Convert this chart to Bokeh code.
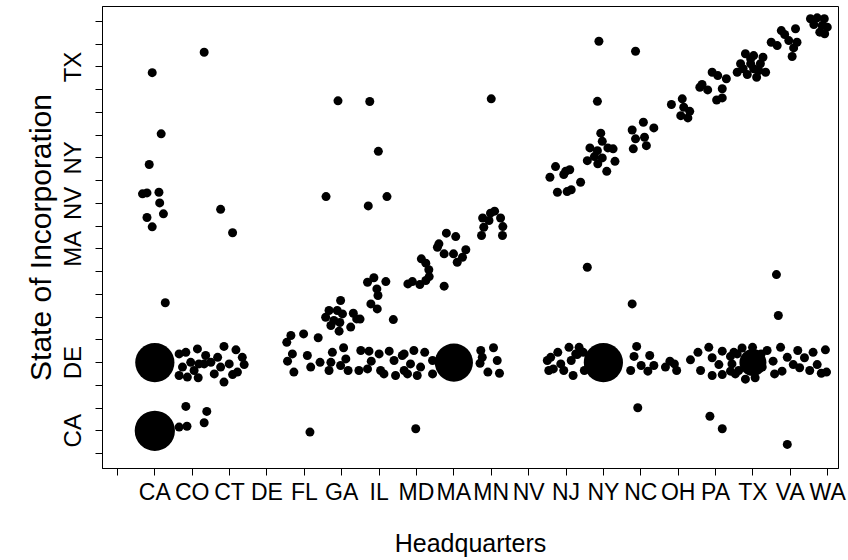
import math
from bokeh.plotting import figure
from bokeh.models import FixedTicker, ColumnDataSource
from bokeh.embed import file_html
from bokeh.resources import INLINE

# Factor levels (used for both axes)
states = ["CA", "CO", "CT", "DE", "FL", "GA", "IL", "MD", "MA", "MN",
          "NV", "NJ", "NY", "NC", "OH", "PA", "TX", "VA", "WA"]
# y tick labels that are printed (others dropped by overlap)
y_shown = ["CA", "DE", "MA", "NV", "NY", "TX"]

# Jittered positions of individual firms on the factor scale (1 = CA ... 19 = WA)
hq_pos = [
    2.32, 0.93, 1.17, 0.85, 0.67, 0.79, 1.11, 1.13, 1.23, 0.79, 0.93, 2.76, 3.08, 1.28,
    5.90, 6.75, 10.0, 6.98, 5.58, 6.71, 7.21,
    9.77, 9.98, 10.09, 10.25, 10.31, 10.30, 9.74, 9.80, 9.94,
    8.80, 9.05, 8.56, 8.74, 8.99, 9.23, 9.32, 9.09, 8.60,
    8.13, 8.25, 8.33, 8.34, 8.25, 8.09, 7.77, 7.89, 8.74,
    6.69, 6.86, 7.18, 6.94, 6.97, 6.78, 6.95, 7.38,
    5.97, 5.88, 5.66, 5.57, 5.79, 6.02, 6.31, 6.40, 6.24, 5.93, 5.71, 5.95, 6.49,
    1.65, 1.83, 2.14, 2.36, 2.32, 2.05, 1.74, 1.87, 1.65, 2.16, 1.96, 2.18,
    2.85, 3.17, 3.34, 2.68, 2.99, 3.39, 3.21, 2.85, 2.59, 3.08, 2.76, 2.50,
    4.64, 4.98, 5.37, 4.53, 4.68, 4.55, 4.72, 5.08, 5.17, 5.42,
    5.75, 5.71, 5.66, 6.05, 6.11, 6.17, 5.97,
    6.51, 6.73, 6.79, 7.00, 6.69, 6.46, 7.04, 7.27, 7.40, 7.13, 7.62, 7.67, 7.44,
    1.83, 2.39, 2.32, 1.86, 1.65, 5.15,
    7.67, 7.93, 8.22, 7.84, 8.11, 8.43, 7.76, 8.02, 8.43,
    9.72, 9.76, 10.06, 10.16, 9.91, 10.22, 9.70, 7.98,
    11.59, 11.78, 12.08, 11.86, 11.66, 12.14, 12.30, 12.19, 12.46, 11.94, 11.50, 11.54,
    12.35, 12.26, 12.49, 12.62,
    13.89, 13.82, 14.01, 14.24, 14.19, 13.73, 14.35,
    14.66, 14.78, 14.90, 14.96,
    13.92, 15.85, 16.18, 17.92,
    15.33, 15.53, 15.82, 15.91, 16.09, 15.60, 15.91, 16.18, 16.40, 16.40, 16.18,
    16.49, 16.71, 16.99, 17.22, 17.25, 17.06, 16.80, 16.53, 16.44, 16.58, 16.62,
    17.38, 17.54, 17.74, 17.92, 17.78, 18.08, 18.20, 18.25, 18.38, 18.61, 18.72, 18.94,
    18.97, 18.83, 18.52, 17.58,
    17.63, 17.68, 12.57, 13.77,
    12.88, 13.86, 12.84,
    11.72, 11.99, 12.10, 11.57, 11.94, 12.39, 11.77, 12.03, 12.14,
    12.93, 12.97, 12.64, 12.84, 13.12, 13.26, 12.57, 12.85, 13.09, 13.31, 12.76, 12.97,
    14.07, 13.77, 14.35, 13.86, 14.10, 14.15, 13.80,
    14.82, 15.11, 15.15, 15.31, 15.07, 15.26,
    15.91, 16.06, 16.29, 15.64, 15.79, 16.18, 16.18, 16.03, 15.58,
    16.80, 17.02, 17.27, 16.67, 16.94, 17.20, 16.58, 16.85, 17.10, 17.34, 17.16, 16.74,
    17.02, 16.94,
    17.76, 17.85, 18.14, 17.49, 17.65, 17.96, 18.18, 18.09, 18.05,
    18.54, 18.72, 18.91, 18.63, 18.85, 18.92, 18.79, 18.99,
]

inc_pos = [
    17.65, 16.75, 14.06, 12.71, 11.42, 11.46, 11.49, 11.02, 10.54, 10.38, 9.97, 10.74, 9.71, 6.63,
    15.51, 15.48, 15.6, 13.29, 11.30, 10.89, 11.30,
    10.36, 10.57, 10.66, 10.36, 9.98, 9.59, 9.59, 9.95, 10.25,
    9.69, 9.54, 9.07, 8.78, 8.78, 8.63, 8.96, 8.41, 9.22,
    8.56, 8.37, 8.08, 7.78, 7.61, 7.43, 7.46, 7.56, 7.36,
    7.53, 7.73, 7.56, 7.24, 6.95, 6.58, 6.36, 5.89,
    6.73, 6.29, 6.29, 5.99, 5.85, 6.14, 6.17, 5.92, 5.56, 5.38, 5.63, 5.76, 5.91,
    4.38, 4.45, 4.60, 4.31, 3.94, 3.65, 3.80, 3.36, 3.43, 3.33, 4.01, 3.94,
    4.71, 4.56, 4.23, 4.23, 3.94, 3.91, 3.58, 3.14, 3.50, 3.47, 3.80, 4.01,
    5.19, 5.26, 5.09, 4.89, 4.38, 4.06, 3.58, 4.31, 3.80, 4.01,
    4.45, 4.01, 3.65, 4.65, 4.16, 3.65, 3.87,
    4.53, 4.50, 4.06, 4.38, 3.72, 3.65, 3.65, 4.50, 4.09, 3.50, 4.31, 3.65, 3.43,
    2.07, 1.85, 1.35, 1.20, 1.16, 0.94,
    4.38, 4.53, 4.45, 3.94, 3.80, 4.09, 3.50, 3.43, 3.50,
    4.53, 4.23, 4.65, 4.09, 3.58, 3.53, 3.97, 1.09,
    4.23, 4.45, 4.67, 3.94, 3.72, 4.09, 4.35, 3.43, 4.45, 3.65, 4.09, 3.65,
    4.67, 4.38, 3.65, 4.23,
    4.71, 4.27, 3.87, 4.31, 3.62, 3.65, 3.87,
    3.80, 4.06, 3.94, 3.65,
    2.01, 1.64, 1.09, 0.40,
    4.12, 4.45, 4.67, 4.21, 3.91, 3.65, 3.43, 4.50, 4.27, 3.62, 3.47,
    4.45, 4.64, 4.67, 4.38, 3.80, 3.33, 3.27, 3.50, 3.94, 4.38, 3.65,
    4.53, 4.06, 4.67, 4.23, 3.62, 3.91, 4.53, 3.77, 4.21, 4.45, 3.91, 4.56,
    3.58, 3.53, 3.65, 3.50,
    7.87, 6.07, 8.19, 6.58,
    18.13, 17.69, 15.49,
    12.62, 12.41, 12.48, 12.15, 12.27, 11.93, 11.49, 11.52, 11.60,
    14.09, 13.73, 13.44, 13.32, 13.44, 13.40, 12.88, 12.74, 12.41, 12.85, 13.06, 13.00,
    14.57, 14.23, 14.32, 13.84, 13.91, 13.54, 13.40,
    15.35, 15.60, 15.23, 15.05, 14.86, 14.76,
    16.77, 16.62, 16.48, 16.23, 15.99, 16.04, 15.64, 15.55, 16.11,
    17.58, 17.50, 17.43, 17.14, 17.14, 17.14, 16.77, 16.67, 16.55, 16.77, 16.84, 16.92,
    16.92, 17.36,
    18.60, 18.43, 18.68, 18.09, 17.94, 18.16, 18.09, 17.84, 17.46,
    19.12, 19.16, 19.12, 18.87, 18.82, 18.46, 18.53, 18.75,
]

# Heavily over-plotted cells (headquarters, incorporation, approx. number of firms)
dense_hq = ["CA", "CA", "MA", "NY", "TX"]
dense_inc = ["CA", "DE", "DE", "DE", "DE"]
dense_count = [20, 19, 18, 19, 9]

DOT = 9
FONT = "Liberation Sans"

p = figure(frame_width=736, frame_height=462,
           x_range=(-0.40, 19.29), y_range=(-0.66, 19.66),
           output_backend="svg", toolbar_location=None,
           min_border_left=102, min_border_right=10, min_border_top=6,
           min_border_bottom=86)
p.background_fill_color = "white"
p.border_fill_color = "white"
p.grid.visible = False
p.outline_line_color = "black"
p.outline_line_width = 1

src = ColumnDataSource(dict(x=hq_pos, y=inc_pos))
p.scatter(x="x", y="y", source=src, size=DOT, fill_color="black", line_color=None)

dsrc = ColumnDataSource(dict(
    x=[states.index(h) + 1 for h in dense_hq],
    y=[states.index(s) + 1 for s in dense_inc],
    s=[DOT * math.sqrt(c) for c in dense_count],
))
p.scatter(x="x", y="y", size="s", source=dsrc, fill_color="black", line_color=None)

ticks = list(range(len(states) + 1))

xa = p.xaxis[0]
xa.ticker = FixedTicker(ticks=ticks, minor_ticks=[])
xo = {0: ""}
for i, s in enumerate(states):
    xo[i + 1] = s
xa.major_label_overrides = xo
xa.major_tick_out = 7
xa.major_tick_in = 0
xa.major_label_standoff = 3
xa.major_label_text_font = FONT
xa.major_label_text_font_size = "23px"
xa.major_label_text_color = "black"
xa.axis_label = "Headquarters"
xa.axis_label_text_font = FONT
xa.axis_label_text_font_size = "25px"
xa.axis_label_text_font_style = "normal"
xa.axis_label_text_color = "black"
xa.axis_label_standoff = 21
xa.axis_line_color = "black"
xa.major_tick_line_color = "black"

ya = p.yaxis[0]
ya.ticker = FixedTicker(ticks=ticks, minor_ticks=[])
yo = {0: ""}
for i, s in enumerate(states):
    yo[i + 1] = s if s in y_shown else ""
ya.major_label_overrides = yo
ya.major_label_orientation = "parallel"
ya.major_tick_out = 7
ya.major_tick_in = 0
ya.major_label_standoff = 9
ya.major_label_text_font = FONT
ya.major_label_text_font_size = "24px"
ya.major_label_text_color = "black"
ya.axis_label = "State of Incorporation"
ya.axis_label_text_font = FONT
ya.axis_label_text_font_size = "30px"
ya.axis_label_text_font_style = "normal"
ya.axis_label_text_color = "black"
ya.axis_label_standoff = 0
ya.axis_line_color = "black"
ya.major_tick_line_color = "black"

open("out.html", "w").write(file_html(p, INLINE))
